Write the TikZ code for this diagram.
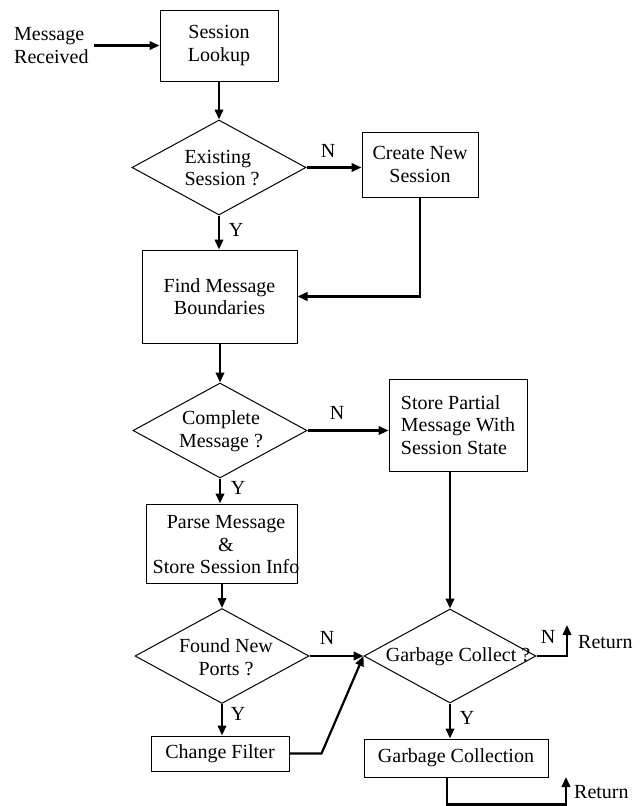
\documentclass[tikz,border=0pt]{standalone}
\usepackage{fontspec}
\setmainfont{Liberation Serif}
\usetikzlibrary{arrows.meta,shapes.geometric}
\begin{document}
\begin{tikzpicture}[x=1pt,y=-1pt,
  every node/.style={font=\fontsize{20}{22.5}\selectfont},
  box/.style={draw,line width=1pt,inner sep=0pt},
  dia/.style={draw,diamond,line width=1pt,inner sep=0pt},
  arr/.style={line width=2.2pt,-{Triangle[length=10pt,width=8.5pt]}},
  lbl/.style={inner sep=0pt}]
\useasboundingbox (0,0) rectangle (644,806);
% nodes
\node[lbl,align=left,anchor=west] (msg) at (14,45.5) {Message\\Received};
\node[box,minimum width=118pt,minimum height=71pt,align=center] (lookup) at (219,45.5) {Session\\Lookup};
\node[dia,minimum width=174pt,minimum height=95pt] (exist) at (219,167.5) {};
\node[lbl,align=left] (existt) at (222,168) {Existing\\Session ?};
\node[box,minimum width=116pt,minimum height=65pt,align=center] (create) at (420,164.5) {Create New\\Session};
\node[box,minimum width=155pt,minimum height=93pt,align=center] (find) at (219.5,296.5) {Find Message\\Boundaries};
\node[dia,minimum width=174pt,minimum height=95pt] (complete) at (220,430.5) {};
\node[lbl,align=center] (completet) at (221,431) {Complete\\Message ?};
\node[box,minimum width=138pt,minimum height=92pt,align=left] (store) at (458,425) {Store Partial\\Message With\\Session State};
\node[box,minimum width=151pt,minimum height=79pt] (parse) at (221.5,543.5) {};
\node[lbl,align=center] (parset) at (226,545) {Parse Message\\\&\\Store Session Info};
\node[dia,minimum width=174pt,minimum height=95pt] (found) at (222,656) {};
\node[lbl,align=center] (foundt) at (226,657) {Found New\\Ports ?};
\node[dia,minimum width=172pt,minimum height=94pt] (gc) at (450,656) {};
\node[lbl] (gct) at (458,657) {Garbage Collect ?};
\node[box,minimum width=138pt,minimum height=35pt] (cfilter) at (220,753.5) {Change Filter};
\node[box,minimum width=184pt,minimum height=38pt] (gcoll) at (456,758) {Garbage Collection};
% labels
\node[lbl] (n1) at (328,151) {N};
\node[lbl] (y1) at (236,230) {Y};
\node[lbl] (n2) at (337,413) {N};
\node[lbl] (y2) at (238,488) {Y};
\node[lbl] (n3) at (327,638) {N};
\node[lbl] (y3) at (238,714) {Y};
\node[lbl] (n4) at (548,637) {N};
\node[lbl] (y4) at (467,718) {Y};
\node[lbl,anchor=west] (ret1t) at (578,642) {Return};
\node[lbl,anchor=west] (ret2t) at (574,792) {Return};
\coordinate (ret1) at (567,625);
\coordinate (ret2) at (566,777);
% connectors
\draw[arr,shorten <=5pt] (msg.east) -- (lookup.west);
\draw[arr] (lookup.south) -- (exist.north);
\draw[arr] (exist.east) -- (exist.east -| create.west);
\draw[arr] (exist.south) -- (exist.south |- find.north);
\draw[arr] (create.south) |- (find.east);
\draw[arr] (find.south -| complete.north) -- (complete.north);
\draw[arr] (complete.east) -- (complete.east -| store.west);
\draw[arr] (complete.south) -- (parse.north -| complete.south);
\draw[arr] (parse.south -| found.north) -- (found.north);
\draw[arr] (found.east) -- (gc.west);
\draw[arr] (found.south) -- (found.south |- cfilter.north);
\draw[arr] (cfilter.east) -- ++(32,0) -- (gc.west);
\draw[arr] (gc.north |- store.south) -- (gc.north);
\draw[arr] (gc.east) -| (ret1);
\draw[arr] (gc.south) -- (gc.south |- gcoll.north);
\draw[arr] ([xshift=-9pt]gcoll.south) -- ++(0,27) -| (ret2);
\end{tikzpicture}
\end{document}
